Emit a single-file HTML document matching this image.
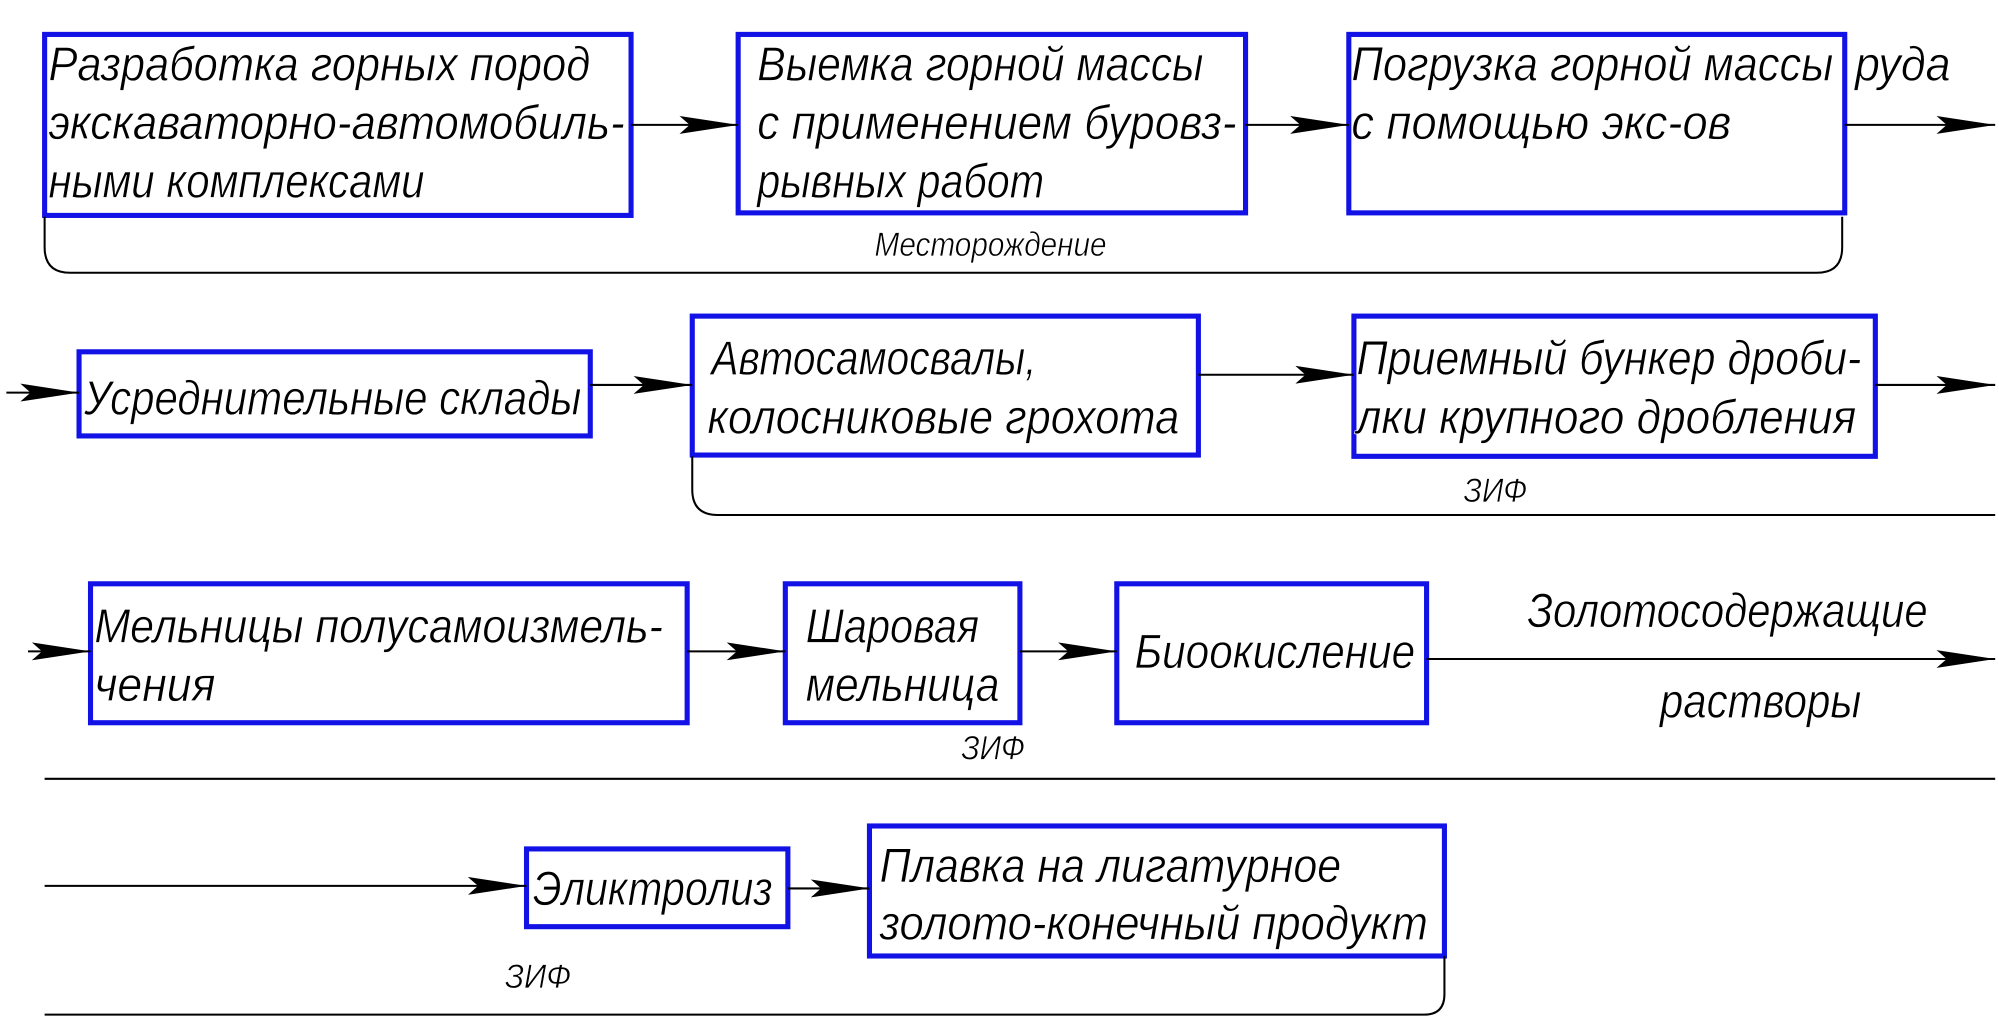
<!DOCTYPE html>
<html><head><meta charset="utf-8"><style>
html,body{margin:0;padding:0;background:#fff;}
svg{display:block}
text{font-family:"Liberation Sans",sans-serif;font-style:italic;fill:#000;stroke:#fff;stroke-width:0.5}
.t{font-size:38px}
.s{font-size:27px}
.b{fill:none;stroke:#1212e6;stroke-width:4}
.l{fill:none;stroke:#000;stroke-width:1.6}
</style></head><body>
<svg width="1999" height="1021" viewBox="0 0 1568 801" preserveAspectRatio="none">
<defs><marker id="a" markerWidth="46" markerHeight="14" refX="46" refY="7" orient="auto" markerUnits="userSpaceOnUse"><path d="M0,0 L46,7 L0,14 L8,7 Z" fill="#000"/></marker></defs>
<!-- row1 -->
<rect class="b" x="35" y="27" width="460" height="142"/>
<rect class="b" x="579" y="27" width="398" height="140"/>
<rect class="b" x="1058" y="27" width="389" height="140"/>
<line class="l" x1="495" y1="98" x2="579" y2="98" marker-end="url(#a)"/>
<line class="l" x1="977" y1="98" x2="1058" y2="98" marker-end="url(#a)"/>
<line class="l" x1="1447" y1="98" x2="1565" y2="98" marker-end="url(#a)"/>
<text class="t" x="38" y="63" textLength="425" lengthAdjust="spacingAndGlyphs">Разработка горных пород</text>
<text class="t" x="38" y="109" textLength="452" lengthAdjust="spacingAndGlyphs">экскаваторно-автомобиль-</text>
<text class="t" x="38" y="155" textLength="295" lengthAdjust="spacingAndGlyphs">ными комплексами</text>
<text class="t" x="594" y="63" textLength="350" lengthAdjust="spacingAndGlyphs">Выемка горной массы</text>
<text class="t" x="594" y="109" textLength="376" lengthAdjust="spacingAndGlyphs">с применением буровз-</text>
<text class="t" x="594" y="155" textLength="225" lengthAdjust="spacingAndGlyphs">рывных работ</text>
<text class="t" x="1060" y="63" textLength="378" lengthAdjust="spacingAndGlyphs">Погрузка горной массы</text>
<text class="t" x="1060" y="109" textLength="298" lengthAdjust="spacingAndGlyphs">с помощью экс-ов</text>
<text class="t" x="1455" y="63" textLength="75" lengthAdjust="spacingAndGlyphs">руда</text>
<path class="l" d="M35,170 V194 Q35,214 55,214 H1425 Q1445,214 1445,194 V170"/>
<text class="s" x="686" y="201" textLength="182" lengthAdjust="spacingAndGlyphs">Месторождение</text>
<!-- row2 -->
<rect class="b" x="62" y="276" width="401" height="66"/>
<rect class="b" x="543" y="248" width="397" height="109"/>
<rect class="b" x="1062" y="248" width="409" height="110"/>
<line class="l" x1="5" y1="308" x2="62" y2="308" marker-end="url(#a)"/>
<line class="l" x1="463" y1="302" x2="543" y2="302" marker-end="url(#a)"/>
<line class="l" x1="940" y1="294" x2="1062" y2="294" marker-end="url(#a)"/>
<line class="l" x1="1471" y1="302" x2="1565" y2="302" marker-end="url(#a)"/>
<text class="t" x="66" y="325" textLength="390" lengthAdjust="spacingAndGlyphs">Усреднительные склады</text>
<text class="t" x="558" y="294" textLength="255" lengthAdjust="spacingAndGlyphs">Автосамосвалы,</text>
<text class="t" x="555" y="340" textLength="370" lengthAdjust="spacingAndGlyphs">колосниковые грохота</text>
<text class="t" x="1064" y="294" textLength="396" lengthAdjust="spacingAndGlyphs">Приемный бункер дроби-</text>
<text class="t" x="1064" y="340" textLength="392" lengthAdjust="spacingAndGlyphs">лки крупного дробления</text>
<path class="l" d="M543,358 V384 Q543,404 563,404 H1565"/>
<text class="s" x="1148" y="394" textLength="50" lengthAdjust="spacingAndGlyphs">ЗИФ</text>
<!-- row3 -->
<rect class="b" x="71" y="458" width="468" height="109"/>
<rect class="b" x="616" y="458" width="184" height="109"/>
<rect class="b" x="876" y="458" width="243" height="109"/>
<line class="l" x1="22" y1="511" x2="71" y2="511" marker-end="url(#a)"/>
<line class="l" x1="539" y1="511" x2="616" y2="511" marker-end="url(#a)"/>
<line class="l" x1="800" y1="511" x2="876" y2="511" marker-end="url(#a)"/>
<line class="l" x1="1119" y1="517" x2="1565" y2="517" marker-end="url(#a)"/>
<text class="t" x="74" y="504" textLength="446" lengthAdjust="spacingAndGlyphs">Мельницы полусамоизмель-</text>
<text class="t" x="74" y="550" textLength="95" lengthAdjust="spacingAndGlyphs">чения</text>
<text class="t" x="632" y="504" textLength="136" lengthAdjust="spacingAndGlyphs">Шаровая</text>
<text class="t" x="632" y="550" textLength="152" lengthAdjust="spacingAndGlyphs">мельница</text>
<text class="t" x="890" y="524" textLength="220" lengthAdjust="spacingAndGlyphs">Биоокисление</text>
<text class="t" x="1198" y="492" textLength="314" lengthAdjust="spacingAndGlyphs">Золотосодержащие</text>
<text class="t" x="1302" y="563" textLength="158" lengthAdjust="spacingAndGlyphs">растворы</text>
<text class="s" x="754" y="596" textLength="50" lengthAdjust="spacingAndGlyphs">ЗИФ</text>
<line class="l" x1="35" y1="611" x2="1565" y2="611"/>
<!-- row4 -->
<rect class="b" x="413" y="666" width="205" height="61"/>
<rect class="b" x="682" y="648" width="451" height="102"/>
<line class="l" x1="35" y1="695" x2="413" y2="695" marker-end="url(#a)"/>
<line class="l" x1="618" y1="697" x2="682" y2="697" marker-end="url(#a)"/>
<text class="t" x="418" y="710" textLength="188" lengthAdjust="spacingAndGlyphs">Эликтролиз</text>
<text class="t" x="690" y="692" textLength="362" lengthAdjust="spacingAndGlyphs">Плавка на лигатурное</text>
<text class="t" x="690" y="737" textLength="430" lengthAdjust="spacingAndGlyphs">золото-конечный продукт</text>
<text class="s" x="396" y="775" textLength="52" lengthAdjust="spacingAndGlyphs">ЗИФ</text>
<path class="l" d="M1133,750 V780 Q1133,796 1117,796 H35"/>
</svg>
</body></html>
